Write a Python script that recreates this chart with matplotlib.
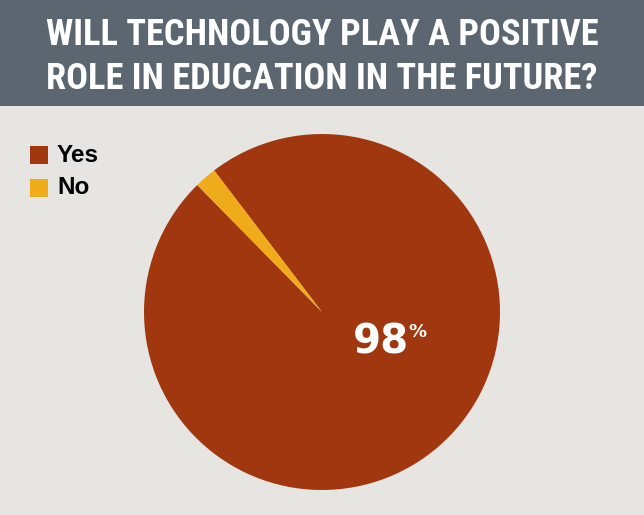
import matplotlib.pyplot as plt
from matplotlib.patches import Rectangle
from matplotlib import font_manager

labels = ["Yes", "No"]
values = [98, 2]
colors = ["#a0370e", "#f0ab1a"]
title = "WILL TECHNOLOGY PLAY A POSITIVE\nROLE IN EDUCATION IN THE FUTURE?"

W, H = 644, 515
fig = plt.figure(figsize=(W / 100, H / 100), dpi=100)
fig.patch.set_facecolor("#e7e5e1")

# pick a narrow-ish bold font if we have one
names = {f.name for f in font_manager.fontManager.ttflist}
tfont = next((n for n in ["Liberation Sans Narrow", "DejaVu Sans Condensed", "Roboto Condensed", "Roboto"]
              if n in names), "DejaVu Sans")

# title banner
fig.patches.append(Rectangle((0, 1 - 106 / H), 1, 106 / H, transform=fig.transFigure,
                             facecolor="#5b6670", edgecolor="none", zorder=0))
t = fig.text(0.5, 1 - 57 / H, title, ha="center", va="center", color="white",
             fontsize=24, fontweight="bold", linespacing=1.3, family=tfont)
# shrink title to the width it takes in the reference (~554 px)
fig.canvas.draw()
bw = t.get_window_extent().width
t.set_fontsize(24 * 554 / bw)

# pie: center (322, 312), radius 178 px
cx, cy, r = 322, 312, 178
ax = fig.add_axes([(cx - r) / W, (H - cy - r) / H, 2 * r / W, 2 * r / H])
ax.pie(values, colors=colors, startangle=134.5, counterclock=True,
       wedgeprops=dict(linewidth=0))
ax.set_xlim(-1, 1)
ax.set_ylim(-1, 1)
ax.axis("off")
ax.text(0.33, -0.17, f"{values[0]}", color="white", fontsize=29, fontweight="bold",
        ha="center", va="center", family="DejaVu Sans")
ax.text(0.535, -0.115, "%", color="white", fontsize=13, fontweight="bold",
        ha="center", va="center", family="DejaVu Sans")

# legend
for i, (lab, col) in enumerate(zip(labels, colors)):
    y = 1 - (155 + 33 * i) / H
    fig.patches.append(Rectangle((30 / W, y - 9 / H), 18 / W, 18 / H, transform=fig.transFigure,
                                 facecolor=col, edgecolor="none"))
    fig.text(57 / W, y, lab, ha="left", va="center", fontsize=17.5, fontweight="bold",
             color="black", family=["Liberation Sans", "DejaVu Sans"])

fig.savefig("out.png", dpi=100, facecolor=fig.get_facecolor())
